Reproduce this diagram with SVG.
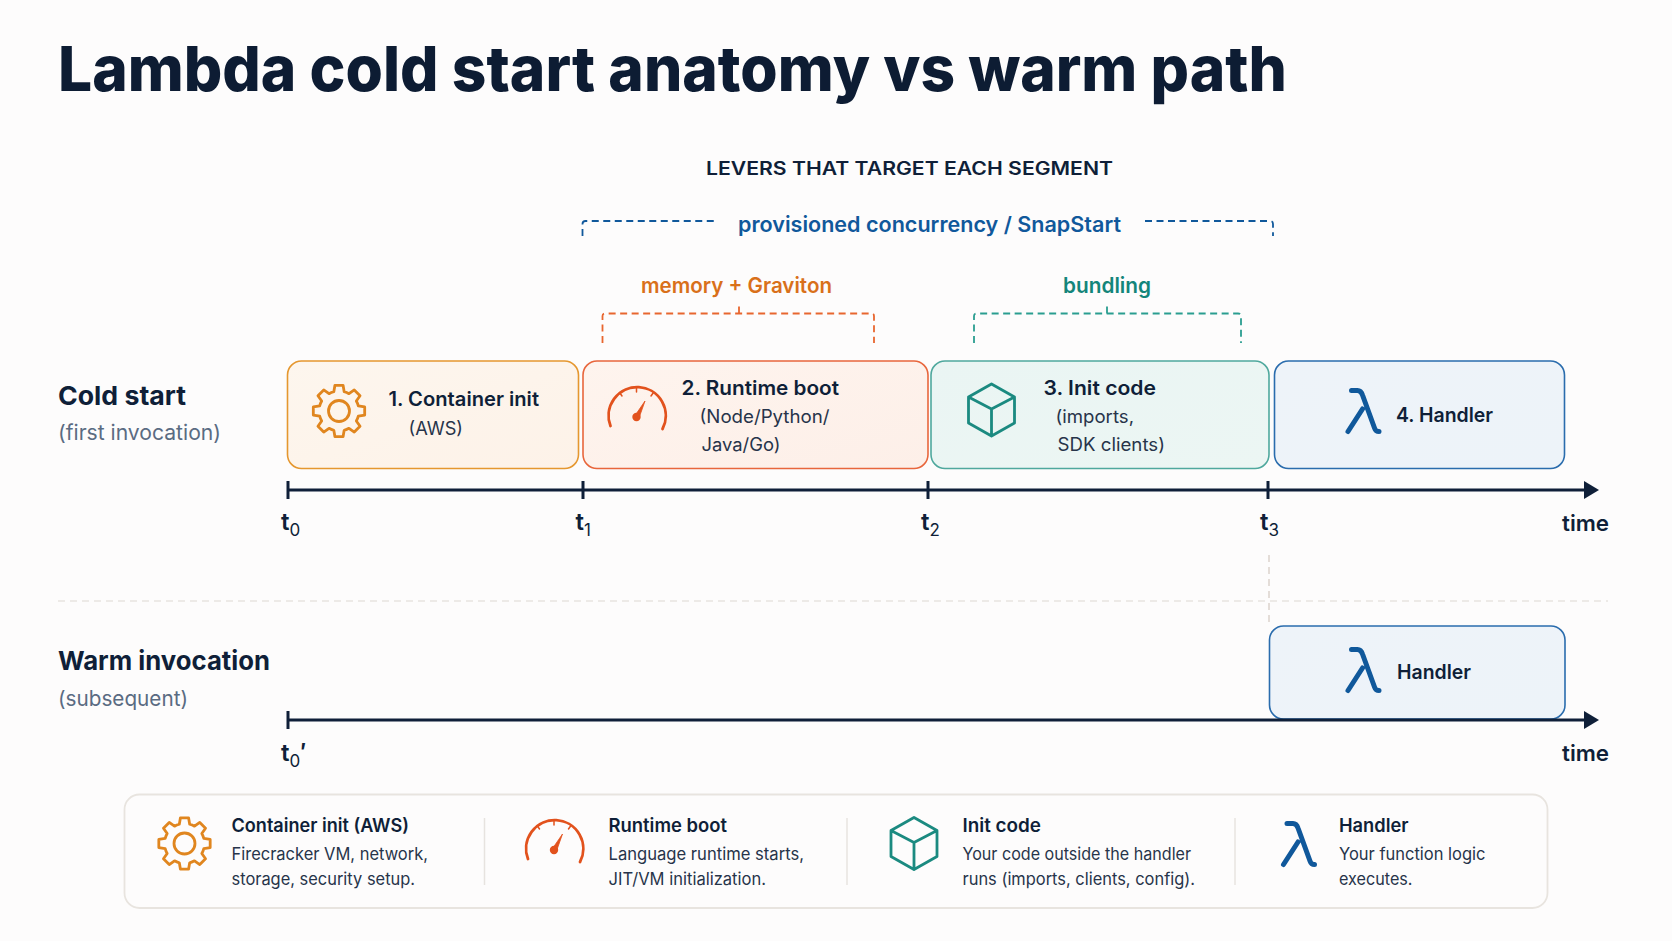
<svg xmlns="http://www.w3.org/2000/svg" width="1672" height="941" viewBox="0 0 1672 941">
<style>
text{font-family:Inter,"Liberation Sans",sans-serif;fill:#0f1f38;}
.title{font-size:62.500px;font-weight:800;fill:#0d1c33;}
.caps{font-size:18px;font-weight:600;}
.lev{font-size:21px;font-weight:600;}
.row{font-size:26px;font-weight:700;}
.rsub{font-size:21px;font-weight:400;fill:#5a6b82;}
.h{font-size:20px;font-weight:600;}
.s{font-size:18px;font-weight:400;fill:#27344a;}
.tk{font-size:24px;font-weight:600;}
.sb{font-size:17px;font-weight:400;}
.lh{font-size:18.500px;font-weight:600;}
.ls{font-size:17px;font-weight:400;fill:#27344a;}
.seg{stroke-width:1.600;}
.ax{stroke:#0f1f38;stroke-width:3;fill:none;}
.br{fill:none;stroke-width:1.800;stroke-dasharray:7 4.500;}
.sep{stroke:#e7e3df;stroke-width:1.500;fill:none;}
.ic{fill:none;stroke-width:2.800;stroke-linejoin:round;stroke-linecap:round;}
.or{stroke:#e0861f;}.rd{stroke:#e2521d;}.tl{stroke:#1b8a80;}.bl{stroke:#10589b;}
</style>
<defs>
<marker id="ah" markerUnits="userSpaceOnUse" markerWidth="15" markerHeight="18" refX="1" refY="9" orient="auto"><path d="M0 0L15 9L0 18z" fill="#0f1f38"/></marker>
<linearGradient id="g1" x1="0" y1="0" x2="1" y2="1"><stop offset="0" stop-color="#fdf6ee"/><stop offset="1" stop-color="#fdf2e8"/></linearGradient>
<linearGradient id="g2" x1="0" y1="0" x2="1" y2="1"><stop offset="0" stop-color="#fef4ee"/><stop offset="1" stop-color="#fdefe8"/></linearGradient>
<linearGradient id="g3" x1="0" y1="0" x2="1" y2="1"><stop offset="0" stop-color="#eaf5f3"/><stop offset="1" stop-color="#ecf6f3"/></linearGradient>
<linearGradient id="g4" x1="0" y1="0" x2="1" y2="1"><stop offset="0" stop-color="#eef3f9"/><stop offset="1" stop-color="#edf3f9"/></linearGradient>
<g id="gear"><path d="M-5.180-19.320L-4.070-25.680L4.070-25.680L5.180-19.320A20 20 0 0 1 10-17.320L15.280-21.040L21.040-15.280L17.320-10A20 20 0 0 1 19.320-5.180L25.680-4.070L25.680 4.070L19.320 5.180A20 20 0 0 1 17.320 10L21.040 15.280L15.280 21.040L10 17.320A20 20 0 0 1 5.180 19.320L4.070 25.680L-4.070 25.680L-5.180 19.320A20 20 0 0 1-10 17.320L-15.280 21.040L-21.040 15.280L-17.320 10A20 20 0 0 1-19.320 5.180L-25.680 4.070L-25.680-4.070L-19.320-5.180A20 20 0 0 1-17.320-10L-21.040-15.280L-15.280-21.040L-10-17.320A20 20 0 0 1-5.180-19.320Z"/><circle r="10.500"/></g>
<g id="gauge"><path d="M-26 9A28.600 28.600 0 1 1 26 12"/><path d="M0-30V-25M-17-24.500L-14.500-21M17-24.500L14.500-21" stroke-width="1.500"/><path d="M-1.800-1L8.500-16L2.500 1Z" stroke-width="0.800" fill="#e2521d"/><circle r="2.800" fill="#e2521d"/></g>
<g id="cube"><path d="M0-25L23-12V14L0 27L-23 14V-12Z M-23-12L0 0L23-12 M0 0V27"/></g>
<g id="lam"><path d="M-12-20.500H-6C-3-20.500-2-19-1-16L11 17C12 20 13 20.500 15.500 20.500M-15.500 20.500L-1-2" stroke-width="5"/></g>
</defs>
<rect width="1672" height="941" fill="#fdfcfc"/>
<text class="title" x="58" y="91" textLength="1229" lengthAdjust="spacingAndGlyphs">Lambda cold start anatomy vs warm path</text>
<text class="caps" x="706" y="174.500" textLength="407" lengthAdjust="spacingAndGlyphs">LEVERS THAT TARGET EACH SEGMENT</text>
<text class="lev" x="738" y="231.500" textLength="383" lengthAdjust="spacingAndGlyphs" style="fill:#10589b">provisioned concurrency / SnapStart</text>
<text class="lev" x="641" y="292.500" textLength="191" lengthAdjust="spacingAndGlyphs" style="fill:#d9701a">memory + Graviton</text>
<text class="lev" x="1063" y="292.500" textLength="88" lengthAdjust="spacingAndGlyphs" style="fill:#13857a">bundling</text>
<g id="node-warm-handler">
<rect x="1269.500" y="626" width="295.500" height="93" rx="14" fill="url(#g4)" stroke="#2a6cad" class="seg"/>
<use href="#lam" x="1363.500" y="670" class="ic bl"/>
<text class="h" x="1397" y="679" textLength="74" lengthAdjust="spacingAndGlyphs">Handler</text>
</g>
<g id="connectors">
<path class="br bl" d="M582.500 236V224Q582.500 221 585.500 221H715"/>
<path class="br bl" d="M1145 221H1270Q1273 221 1273 224V236"/>
<path class="br" style="stroke:#e8662f" d="M602.500 343V316Q602.500 313.500 605.500 313.500H871Q874 313.500 874 316V343M739 313.500V303"/>
<path class="br" style="stroke:#2a9d90" d="M974 343V316Q974 313.500 977 313.500H1238Q1241 313.500 1241 316V343M1107 313.500V303"/>
<path class="ax" d="M288 490H1585" marker-end="url(#ah)"/>
<path class="ax" d="M288 481V499M583 481V499M928 481V499M1268 481V499"/>
<path class="ax" d="M288 720H1585" marker-end="url(#ah)"/>
<path class="ax" d="M288 711V729"/>
<path class="sep" d="M58 601H1608" stroke-dasharray="7 5"/>
<path d="M1269 555V625" fill="none" stroke="#dcd2cb" stroke-width="1.500" stroke-dasharray="7 5"/>
</g>
<g id="label-cold"><text class="row" x="58" y="404.500" textLength="128" lengthAdjust="spacingAndGlyphs">Cold start</text><text class="rsub" x="58" y="440" textLength="163" lengthAdjust="spacingAndGlyphs">(first invocation)</text></g>
<g id="label-warm"><text class="row" x="58" y="669.500" textLength="212" lengthAdjust="spacingAndGlyphs">Warm invocation</text><text class="rsub" x="58" y="705.500" textLength="130" lengthAdjust="spacingAndGlyphs">(subsequent)</text></g>
<g id="node-container-init">
<rect x="287.500" y="361" width="291" height="107.500" rx="14" fill="url(#g1)" stroke="#e5972f" class="seg"/>
<use href="#gear" x="339" y="411" class="ic or"/>
<text class="h" x="388.500" y="405.500" textLength="150.500" lengthAdjust="spacingAndGlyphs">1. Container init</text>
<text class="s" x="408.500" y="434.500" textLength="54.500" lengthAdjust="spacingAndGlyphs">(AWS)</text>
</g>
<g id="node-runtime-boot">
<rect x="583" y="361" width="345" height="107.500" rx="14" fill="url(#g2)" stroke="#e8663c" class="seg"/>
<use href="#gauge" x="636.500" y="417" class="ic rd"/>
<text class="h" x="681.500" y="394.500" textLength="157.500" lengthAdjust="spacingAndGlyphs">2. Runtime boot</text>
<text class="s" x="699.500" y="423" textLength="130" lengthAdjust="spacingAndGlyphs">(Node/Python/</text>
<text class="s" x="701.500" y="451" textLength="79" lengthAdjust="spacingAndGlyphs">Java/Go)</text>
</g>
<g id="node-init-code">
<rect x="931" y="361" width="338" height="107.500" rx="14" fill="url(#g3)" stroke="#4fa89d" class="seg"/>
<use href="#cube" x="991.500" y="409" class="ic tl"/>
<text class="h" x="1043.500" y="394.500" textLength="112.500" lengthAdjust="spacingAndGlyphs">3. Init code</text>
<text class="s" x="1055.500" y="423" textLength="78.500" lengthAdjust="spacingAndGlyphs">(imports,</text>
<text class="s" x="1057.500" y="451" textLength="107.500" lengthAdjust="spacingAndGlyphs">SDK clients)</text>
</g>
<g id="node-handler">
<rect x="1274.500" y="361" width="290" height="107.500" rx="14" fill="url(#g4)" stroke="#2a6cad" class="seg"/>
<use href="#lam" x="1363.500" y="411" class="ic bl"/>
<text class="h" x="1396" y="421.500" textLength="97" lengthAdjust="spacingAndGlyphs">4. Handler</text>
</g>
<g id="tick-labels">
<text class="tk" x="281" y="530">t<tspan class="sb" dy="6">0</tspan></text>
<text class="tk" x="575.500" y="530">t<tspan class="sb" dy="6">1</tspan></text>
<text class="tk" x="921" y="530">t<tspan class="sb" dy="6">2</tspan></text>
<text class="tk" x="1260" y="530">t<tspan class="sb" dy="6">3</tspan></text>
<text class="h" x="1562" y="530.500" textLength="47" lengthAdjust="spacingAndGlyphs" style="font-size:22px">time</text>
<text class="tk" x="281" y="761">t<tspan class="sb" dy="6">0</tspan><tspan dy="-6">′</tspan></text>
<text class="h" x="1562" y="760.500" textLength="47" lengthAdjust="spacingAndGlyphs" style="font-size:22px">time</text>
</g>
<g id="legend">
<rect x="124.500" y="794.500" width="1423" height="113.500" rx="15" fill="#fdfcfc" stroke="#e8e4df" stroke-width="1.800"/>
<path class="sep" d="M484.500 818V885M847 818V885M1235 818V885"/>
<g id="legend-container">
<use href="#gear" transform="translate(184.500 843.500)" class="ic or"/>
<text class="lh" x="231.500" y="831.500" textLength="177.500" lengthAdjust="spacingAndGlyphs">Container init (AWS)</text>
<text class="ls" x="231.500" y="859.500" textLength="196.500" lengthAdjust="spacingAndGlyphs">Firecracker VM, network,</text>
<text class="ls" x="231.500" y="884.500" textLength="183.500" lengthAdjust="spacingAndGlyphs">storage, security setup.</text>
</g>
<g id="legend-runtime">
<use href="#gauge" x="554" y="850" class="ic rd"/>
<text class="lh" x="608.500" y="831.500" textLength="118.500" lengthAdjust="spacingAndGlyphs">Runtime boot</text>
<text class="ls" x="608.500" y="859.500" textLength="195.500" lengthAdjust="spacingAndGlyphs">Language runtime starts,</text>
<text class="ls" x="608.500" y="884.500" textLength="157.500" lengthAdjust="spacingAndGlyphs">JIT/VM initialization.</text>
</g>
<g id="legend-init">
<use href="#cube" x="914" y="842.500" class="ic tl"/>
<text class="lh" x="962.500" y="831.500" textLength="78.500" lengthAdjust="spacingAndGlyphs">Init code</text>
<text class="ls" x="962.500" y="859.500" textLength="228.500" lengthAdjust="spacingAndGlyphs">Your code outside the handler</text>
<text class="ls" x="962.500" y="884.500" textLength="232.500" lengthAdjust="spacingAndGlyphs">runs (imports, clients, config).</text>
</g>
<g id="legend-handler">
<use href="#lam" x="1299" y="844" class="ic bl"/>
<text class="lh" x="1339" y="831.500" textLength="69.500" lengthAdjust="spacingAndGlyphs">Handler</text>
<text class="ls" x="1339" y="859.500" textLength="146.500" lengthAdjust="spacingAndGlyphs">Your function logic</text>
<text class="ls" x="1339" y="884.500" textLength="73.500" lengthAdjust="spacingAndGlyphs">executes.</text>
</g>
</g>
</svg>
